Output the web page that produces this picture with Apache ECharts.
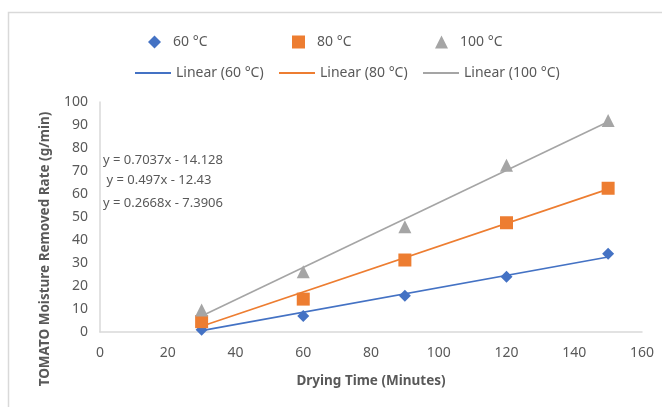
<!DOCTYPE html>
<html>
<head>
<meta charset="utf-8">
<script src="https://cdn.jsdelivr.net/npm/echarts@6/dist/echarts.min.js"></script>
<style>html,body{margin:0;padding:0;background:#fff}#c{width:662px;height:407px}</style>
</head>
<body>
<div id="c"></div>
<script>
const xValues = [30, 60, 90, 120, 150];
const s60 = [1.0, 7.0, 15.8, 24.0, 34.0];
const s80 = [4.5, 14.3, 31.3, 47.5, 62.5];
const s100 = [9.6, 26.2, 45.8, 72.5, 92.0];
const seriesNames = ['60 °C', '80 °C', '100 °C'];
const trendNames = ['Linear (60 °C)', 'Linear (80 °C)', 'Linear (100 °C)'];
const slopes = [0.2668, 0.497, 0.7037];
const intercepts = [-7.3906, -12.43, -14.128];
const equations = ['y = 0.7037x - 14.128', ' y = 0.497x - 12.43', 'y = 0.2668x - 7.3906'];
const xTicks = [0, 20, 40, 60, 80, 100, 120, 140, 160];
const yTicks = [0, 10, 20, 30, 40, 50, 60, 70, 80, 90, 100];

const colors = ['#4472C4', '#ED7D31', '#A5A5A5'];
const symbols = ['diamond', 'rect', 'triangle'];
const symSizes = [12, 13, 13];
const dataSets = [s60, s80, s100];
const font = 'Noto Sans';
const txt = '#595959';

const series = [];
for (let i = 0; i < 3; i++) {
  series.push({
    name: trendNames[i], type: 'line', symbol: 'none', z: 2,
    lineStyle: { color: colors[i], width: 1.6 }, itemStyle: { color: colors[i] },
    data: [xValues[0], xValues[xValues.length - 1]].map(x => [x, slopes[i] * x + intercepts[i]])
  });
}
for (let i = 0; i < 3; i++) {
  series.push({
    name: seriesNames[i], type: 'scatter', symbol: symbols[i], symbolSize: symSizes[i], z: 3,
    itemStyle: { color: colors[i], opacity: 1 },
    data: xValues.map((x, j) => [x, dataSets[i][j]])
  });
}

const legendRow1 = [143, 287, 430];
const legendRow2 = [130, 274, 418];
const legends = [];
for (let i = 0; i < 3; i++) {
  legends.push({
    data: [seriesNames[i]], left: legendRow1[i], top: 30, itemWidth: 13, itemHeight: 13,
    selectedMode: false,
    textStyle: { fontFamily: font, fontSize: 14, color: txt, padding: [0, 0, 0, 7] }
  });
  legends.push({
    data: [{ name: trendNames[i], icon: 'rect' }], left: legendRow2[i], top: 61, itemWidth: 36, itemHeight: 2,
    selectedMode: false,
    textStyle: { fontFamily: font, fontSize: 14, color: txt, padding: [0, 0, 0, 0] }
  });
}

const eqY = [160, 180, 203];
const graphics = [
  { type: 'polyline', shape: { points: [[8.5, 407], [8.5, 12.5], [662, 12.5]] }, style: { stroke: '#d9d9d9', lineWidth: 1.5, fill: null } },
  { type: 'text', x: 45, y: 249, rotation: Math.PI / 2,
    style: { text: 'TOMATO Moisture Removed Rate (g/min)', fontFamily: font, fontWeight: 'bold', fontSize: 13.5, fill: txt, align: 'center', verticalAlign: 'middle' } },
  { type: 'text', x: 371, y: 381,
    style: { text: 'Drying Time (Minutes)', fontFamily: font, fontWeight: 'bold', fontSize: 13.5, fill: txt, align: 'center', verticalAlign: 'middle' } }
];
equations.forEach((e, i) => graphics.push({
  type: 'text', x: 103, y: eqY[i],
  style: { text: e, fontFamily: font, fontSize: 13, fill: txt, align: 'left', verticalAlign: 'middle' }
}));

const chart = echarts.init(document.getElementById('c'), null, { renderer: 'canvas' });
chart.setOption({
  animation: false,
  backgroundColor: '#fff',
  grid: { left: 100, right: 20, top: 102, bottom: 75, containLabel: false },
  legend: legends,
  xAxis: {
    type: 'value', min: xTicks[0], max: xTicks[xTicks.length - 1], interval: xTicks[1] - xTicks[0],
    axisLine: { show: true, lineStyle: { color: '#d9d9d9', width: 1.5 } },
    axisTick: { show: false }, splitLine: { show: false },
    axisLabel: { fontFamily: font, fontSize: 14, color: txt, margin: 14 }
  },
  yAxis: {
    type: 'value', min: yTicks[0], max: yTicks[yTicks.length - 1], interval: yTicks[1] - yTicks[0],
    axisLine: { show: true, lineStyle: { color: '#d9d9d9', width: 1.5 } },
    axisTick: { show: false }, splitLine: { show: false },
    axisLabel: { fontFamily: font, fontSize: 14, color: txt, margin: 12 }
  },
  graphic: graphics,
  series: series
});
</script>
</body>
</html>
